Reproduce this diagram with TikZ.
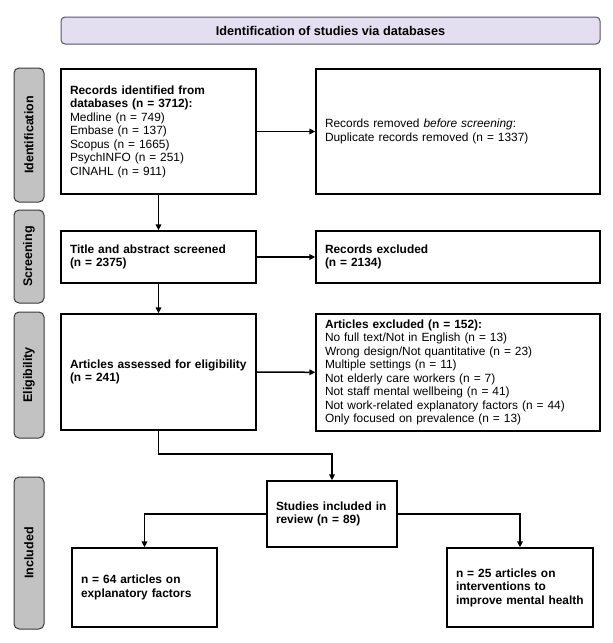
\documentclass[tikz,border=0pt]{standalone}
\usepackage{fontspec}
\setmainfont{Liberation Sans}
\usetikzlibrary{arrows.meta,calc}
\definecolor{bannerfill}{HTML}{E4DFF0}
\definecolor{bannerline}{HTML}{55556A}
\definecolor{sidefill}{HTML}{C2C2C2}
\definecolor{sideline}{HTML}{3A3A3A}
\begin{document}
\begin{tikzpicture}[x=1pt,y=-1pt,
  boxtext/.style={font=\fontsize{11.9}{13.5}\selectfont},
  flowbox/.style={draw=black, line width=1.3pt, fill=white, rectangle, inner xsep=9pt, inner ysep=0pt, align=left, boxtext},
  banner/.style={draw=bannerline, line width=1pt, fill=bannerfill, rounded corners=4pt, minimum width=539pt, minimum height=27pt, font=\fontsize{12.7}{14}\selectfont\bfseries},
  sidelabel/.style={draw=sideline, line width=1pt, fill=sidefill, rounded corners=5pt, rotate=90, minimum height=30pt, inner sep=0pt, font=\fontsize{12.5}{14}\selectfont\bfseries},
  flow/.style={line width=1.5pt, -{Triangle[length=6pt,width=5.5pt]}},
  flowline/.style={line width=1.5pt}
]
\useasboundingbox (0,0) rectangle (613,643);
\fill[white] (0,0) rectangle (613,643);

\node[banner] (ban) at (330.5,30.5) {Identification of studies via databases};

\node[sidelabel, minimum width=134pt] (sid) at (29,135) {Identification};
\node[sidelabel, minimum width=93pt] (sscr) at (29,256.5) {Screening};
\node[sidelabel, minimum width=126pt] (seli) at (29,375) {Eligibility};
\node[sidelabel, minimum width=152pt] (sinc) at (29,553) {Included};

\node[flowbox, text width=177pt, minimum height=125pt] (rec) at (158.5,131.5)
 {\textbf{Records identified from}\\\textbf{databases (n = 3712):}\\Medline (n = 749)\\Embase (n = 137)\\Scopus (n = 1665)\\PsychINFO (n = 251)\\CINAHL (n = 911)};
\node[flowbox, text width=266pt, minimum height=125pt] (rem) at (458,131.5)
 {Records removed \textit{before screening}:\\Duplicate records removed (n = 1337)};
\node[flowbox, text width=177pt, minimum height=52pt] (tit) at (158.5,257)
 {\textbf{Title and abstract screened}\\\textbf{(n = 2375)}};
\node[flowbox, text width=266pt, minimum height=52pt] (exc) at (458,257)
 {\textbf{Records excluded}\\\textbf{(n = 2134)}};
\node[flowbox, text width=177pt, minimum height=116pt] (ass) at (158.5,372)
 {\textbf{Articles assessed for eligibility}\\\textbf{(n = 241)}};
\node[flowbox, text width=266pt, minimum height=117pt] (aex) at (458,372.5)
 {\textbf{Articles excluded (n = 152):}\\No full text/Not in English (n = 13)\\Wrong design/Not quantitative (n = 23)\\Multiple settings (n = 11)\\Not elderly care workers (n = 7)\\Not staff mental wellbeing (n = 41)\\Not work-related explanatory factors (n = 44)\\Only focused on prevalence (n = 13)};
\node[flowbox, text width=112pt, minimum height=66pt] (stu) at (332,514)
 {\textbf{Studies included in}\\\textbf{review (n = 89)}};
\node[flowbox, text width=127pt, minimum height=79pt] (lft) at (144.5,587.5)
 {\textbf{n = 64 articles on}\\\textbf{explanatory factors}};
\node[flowbox, text width=128pt, minimum height=79pt] (rgt) at (520,587.5)
 {\textbf{n = 25 articles on}\\\textbf{interventions to}\\\textbf{improve mental health}};

\coordinate (bend) at (158.5,454);
\draw[flow] (rec) -- (rem);
\draw[flow] (rec) -- (tit);
\draw[flow] (tit) -- (exc);
\draw[flow] (tit) -- (ass);
\draw[flow] (ass) -- (aex);
\draw[flow] (ass.south) -- (bend) -| (stu.north);
\draw[flow] (stu.west) -| (lft.north);
\draw[flow] (stu.east) -| (rgt.north);
\end{tikzpicture}
\end{document}
